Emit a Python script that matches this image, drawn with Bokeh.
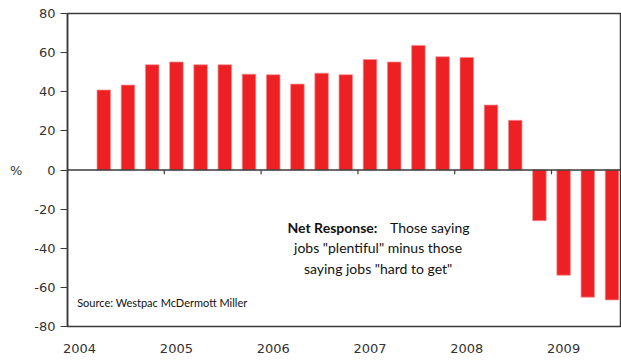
from bokeh.plotting import figure
from bokeh.models import (Span, Label, FixedTicker, LinearAxis, ColumnDataSource, Range1d)
from bokeh.embed import file_html
from bokeh.resources import INLINE

# ---- data ----
years = [2004, 2004, 2004, 2005, 2005, 2005, 2005, 2006, 2006, 2006, 2006,
         2007, 2007, 2007, 2007, 2008, 2008, 2008, 2008, 2009, 2009, 2009]
quarters = [2, 3, 4, 1, 2, 3, 4, 1, 2, 3, 4, 1, 2, 3, 4, 1, 2, 3, 4, 1, 2, 3]
net_response = [40.9, 43.4, 53.8, 55.2, 53.8, 53.8, 49.0, 48.7, 43.9, 49.5, 48.7,
                56.5, 55.2, 63.7, 57.9, 57.5, 33.2, 25.4, -25.9, -53.8, -65.0, -66.4]
year_labels = ["2004", "2005", "2006", "2007", "2008", "2009"]
y_ticks = [-80, -60, -40, -20, 0, 20, 40, 60, 80]
y_tick_labels = ["-80", "-60", "-40", "-20", "0", "20", "40", "60", "80"]

xpos = [y + (q - 0.5) / 4 for y, q in zip(years, quarters)]
src = ColumnDataSource(dict(x=xpos, top=net_response))
year_nums = [int(s) for s in year_labels]

AX = "#3a3a3a"
TXT = "#333333"

p = figure(width=621, height=360, output_backend="svg", toolbar_location=None,
           x_range=Range1d(2004.0, 2009.723), y_range=Range1d(-80, 80),
           min_border_left=67, min_border_right=0, min_border_top=13,
           min_border_bottom=34, y_axis_location=None, x_axis_location=None)
p.grid.visible = False
p.outline_line_color = AX
p.outline_line_width = 1.5
p.background_fill_color = "white"
p.border_fill_color = "white"

p.vbar(x="x", top="top", bottom=0, width=0.14, source=src,
       fill_color="#ED2024", line_color="#F29090", line_width=0.7)

# zero line and year tick marks
p.add_layout(Span(location=0, dimension="width", line_color=AX, line_width=1.5))
p.segment(x0=year_nums, x1=year_nums, y0=[0] * len(year_nums),
          y1=[-2.2] * len(year_nums), line_color=AX, line_width=1.2)

# left axis
ya = LinearAxis(ticker=FixedTicker(ticks=y_ticks))
ya.major_label_overrides = {t: s for t, s in zip(y_ticks, y_tick_labels)}
ya.axis_line_color = AX
ya.axis_line_width = 1.5
ya.major_tick_line_color = AX
ya.major_tick_out = 7
ya.major_tick_in = 0
ya.minor_tick_line_color = None
ya.major_label_standoff = 5
ya.major_label_text_font = "DejaVu Sans"
ya.major_label_text_font_size = "13px"
ya.major_label_text_color = TXT
ya.axis_label = "%"
ya.axis_label_orientation = "horizontal"
ya.axis_label_standoff = 9
ya.axis_label_text_font = "DejaVu Sans"
ya.axis_label_text_font_size = "13px"
ya.axis_label_text_font_style = "normal"
ya.axis_label_text_color = TXT
p.add_layout(ya, "left")

# bottom axis (labels only)
label_pos = [n + 0.125 for n in year_nums]
xa = LinearAxis(ticker=FixedTicker(ticks=label_pos))
xa.major_label_overrides = {lp: lab for lp, lab in zip(label_pos, year_labels)}
xa.axis_line_color = None
xa.major_tick_line_color = None
xa.minor_tick_line_color = None
xa.major_tick_out = 0
xa.major_tick_in = 0
xa.major_label_standoff = 17
xa.major_label_text_font = "DejaVu Sans"
xa.major_label_text_font_size = "13px"
xa.major_label_text_color = TXT
p.add_layout(xa, "below")

# annotation
FONT = "Lato"
p.add_layout(Label(x=2006.273, y=-29.6, text="Net Response:", text_font=FONT,
                   text_font_style="bold", text_font_size="14px", text_color="#111111",
                   text_align="left", text_baseline="middle"))
p.add_layout(Label(x=2008.153, y=-29.6, text="Those saying", text_font=FONT,
                   text_font_size="14px", text_color="#111111",
                   text_align="right", text_baseline="middle"))
p.add_layout(Label(x=2007.208, y=-39.8, text='jobs "plentiful" minus those', text_font=FONT,
                   text_font_size="14px", text_color="#111111",
                   text_align="center", text_baseline="middle"))
p.add_layout(Label(x=2007.208, y=-50.6, text='saying jobs "hard to get"', text_font=FONT,
                   text_font_size="14px", text_color="#111111",
                   text_align="center", text_baseline="middle"))
p.add_layout(Label(x=2004.10, y=-67.9, text="Source:  Westpac McDermott Miller",
                   text_font=FONT, text_font_size="11px", text_color="#111111",
                   text_align="left", text_baseline="middle"))

open("out.html", "w").write(file_html(p, INLINE))
